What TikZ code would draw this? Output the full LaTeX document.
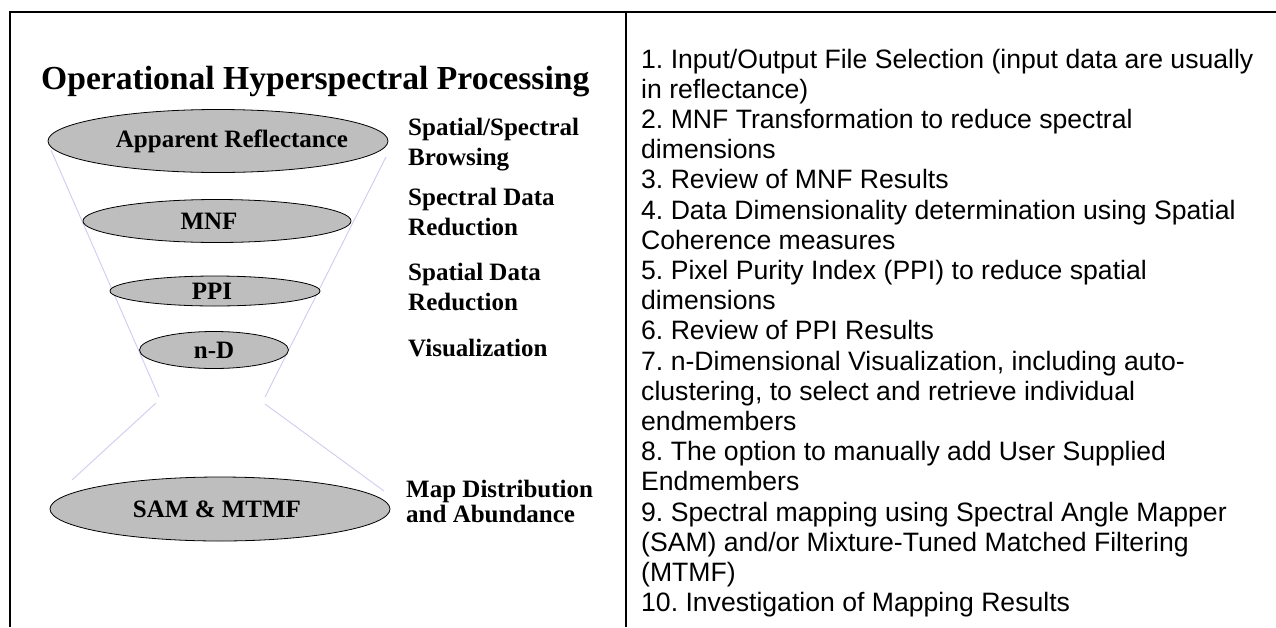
\documentclass[tikz,border=0pt]{standalone}
\usepackage{fontspec}
\usetikzlibrary{shapes.geometric}
\newfontfamily\tnr{Liberation Serif}
\newfontfamily\arial{Liberation Sans}
\definecolor{ellgray}{RGB}{190,190,190}
\definecolor{funnel}{RGB}{205,205,240}
\begin{document}
\frenchspacing
\begin{tikzpicture}[x=1pt,y=-1pt,
  stage/.style={ellipse, draw=black, line width=0.8pt, fill=ellgray, inner sep=0pt},
  stagetext/.style={inner sep=0pt, font=\tnr\bfseries\fontsize{25}{25}\selectfont},
  lbl/.style={anchor=base west, inner sep=0pt, font=\tnr\bfseries\fontsize{25}{30}\selectfont},
  frameline/.style={line width=2pt, black},
  fun/.style={draw=funnel, line width=0.9pt}]
\useasboundingbox (0,0) rectangle (1276,627);
\fill[white] (0,0) rectangle (1276,627);

% table frame
\coordinate (tl) at (10,12);
\coordinate (tr) at (1276,12);
\coordinate (bl) at (10,627);
\coordinate (dt) at (626,12);
\coordinate (db) at (626,627);
\draw[frameline] (9,12) -- (tr);
\draw[frameline] (tl) -- (bl);
\draw[frameline] (dt) -- (db);

% title
\node[anchor=base west, inner sep=0pt, font=\tnr\bfseries\fontsize{33.6}{36}\selectfont]
  (title) at (41,89) {Operational Hyperspectral Processing};

% funnel lines
\coordinate (f1a) at (51,150);
\coordinate (f1b) at (159,397);
\coordinate (f2a) at (386,157);
\coordinate (f2b) at (265,397);
\coordinate (f3a) at (156,403);
\coordinate (f3b) at (72,480);
\coordinate (f4a) at (265,404);
\coordinate (f4b) at (384,491);
\draw[fun] (f1a) -- (f1b);
\draw[fun] (f2a) -- (f2b);
\draw[fun] (f3a) -- (f3b);
\draw[fun] (f4a) -- (f4b);

% stages
\node[stage, minimum width=340pt, minimum height=63pt] (ar) at (218,141) {};
\node[stagetext] (artext) at ([xshift=14pt]ar.center) {Apparent Reflectance};
\node[stage, minimum width=268pt, minimum height=43pt] (mnf) at (217,221) {};
\node[stagetext] (mnftext) at ([xshift=-8pt]mnf.center) {MNF};
\node[stage, minimum width=210pt, minimum height=30pt] (ppi) at (215,291) {};
\node[stagetext] (ppitext) at ([xshift=-3pt]ppi.center) {PPI};
\node[stage, minimum width=149pt, minimum height=37pt] (nd) at (214,350) {};
\node[stagetext] (ndtext) at (nd.center) {n-D};
\node[stage, minimum width=340pt, minimum height=64pt] (sam) at (220,509) {};
\node[stagetext] (samtext) at ([xshift=-3pt]sam.center) {SAM \& MTMF};

% labels
\node[lbl] (l1) at (408,135) {\parbox[t]{215pt}{Spatial/Spectral\\Browsing}};
\node[lbl] (l2) at (408,205) {\parbox[t]{215pt}{Spectral Data\\Reduction}};
\node[lbl] (l3) at (408,280) {\parbox[t]{215pt}{Spatial Data\\Reduction}};
\node[lbl] (l4) at (408,356) {Visualization};
\node[lbl, font=\tnr\bfseries\fontsize{25}{25}\selectfont] (l5) at (406,497)
  {\parbox[t]{215pt}{Map Distribution\\and Abundance}};

% steps
\node[anchor=base west, inner sep=0pt, font=\arial\fontsize{26.6}{30.2}\selectfont]
  (steps) at (641,68) {\parbox[t]{660pt}{\raggedright
1. Input/Output File Selection (input data are usually\\
in reflectance)\\
2. MNF Transformation to reduce spectral\\
dimensions\\
3. Review of MNF Results\\
4. Data Dimensionality determination using Spatial\\
Coherence measures\\
5. Pixel Purity Index (PPI) to reduce spatial\\
dimensions\\
6. Review of PPI Results\\
7. n-Dimensional Visualization, including auto-\\
clustering, to select and retrieve individual\\
endmembers\\
8. The option to manually add User Supplied\\
Endmembers\\
9. Spectral mapping using Spectral Angle Mapper\\
(SAM) and/or Mixture-Tuned Matched Filtering\\
(MTMF)\\
10. Investigation of Mapping Results}};
\end{tikzpicture}
\end{document}
